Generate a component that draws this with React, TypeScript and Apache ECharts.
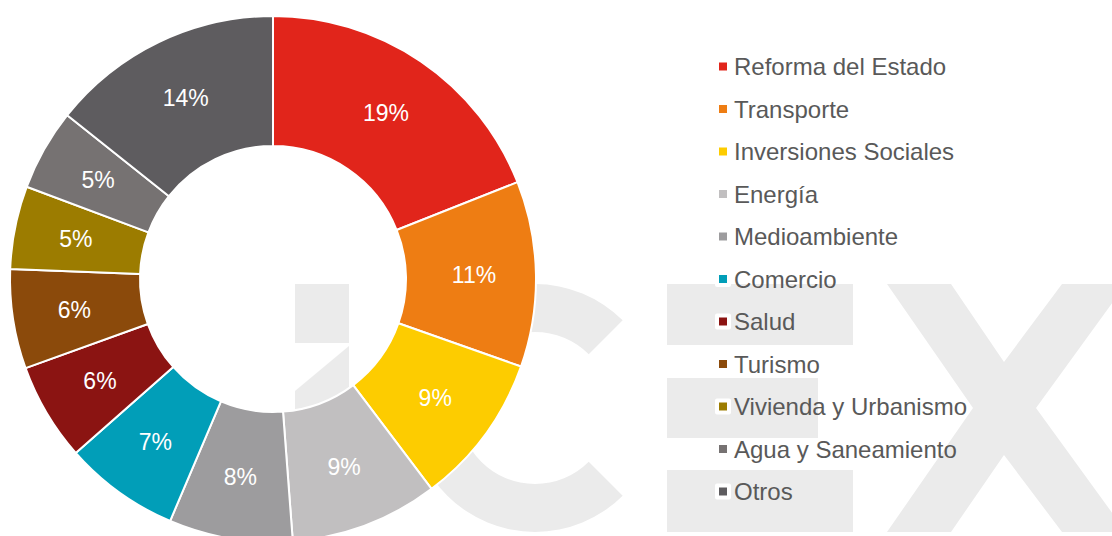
import React, { useEffect, useRef } from "react";
import * as echarts from "echarts";

const categories = [
  "Reforma del Estado",
  "Transporte",
  "Inversiones Sociales",
  "Energía",
  "Medioambiente",
  "Comercio",
  "Salud",
  "Turismo",
  "Vivienda y Urbanismo",
  "Agua y Saneamiento",
  "Otros",
];
const shares = [19.0, 11.4, 9.3, 9.1, 7.6, 7.1, 6.0, 6.1, 5.1, 5.0, 14.3];
const colors = [
  "#e1251b",
  "#ee7d13",
  "#fdcc00",
  "#c1bfc0",
  "#9d9c9e",
  "#019eb8",
  "#8b1412",
  "#8b4a0b",
  "#9c7c00",
  "#767272",
  "#5e5c5f",
];

const WM = "#ebebeb";

export default function App() {
  const ref = useRef<HTMLDivElement>(null);
  useEffect(() => {
    if (!ref.current) return;
    const chart = echarts.init(ref.current, undefined, { renderer: "svg" });
    const font = "'Liberation Sans', Arial, sans-serif";
    chart.setOption({
      animation: false,
      backgroundColor: "#ffffff",
      graphic: [
        { type: "rect", z: 0, shape: { x: 295, y: 284, width: 54, height: 59 }, style: { fill: WM } },
        {
          type: "polygon",
          z: 0,
          shape: { points: [[349, 346], [349, 532], [295, 532], [295, 391]] },
          style: { fill: WM },
        },
        {
          type: "sector",
          z: 0,
          shape: { cx: 535, cy: 408, r: 124, r0: 76, startAngle: Math.PI / 4, endAngle: (Math.PI * 7) / 4, clockwise: true },
          style: { fill: WM },
        },
        { type: "rect", z: 0, shape: { x: 667, y: 284, width: 186, height: 61 }, style: { fill: WM } },
        { type: "rect", z: 0, shape: { x: 667, y: 378, width: 151, height: 60 }, style: { fill: WM } },
        { type: "rect", z: 0, shape: { x: 667, y: 470, width: 186, height: 62 }, style: { fill: WM } },
        {
          type: "polygon",
          z: 0,
          shape: {
            points: [
              [887, 284], [951, 284], [1004, 362], [1062, 284], [1126, 284], [1036, 408],
              [1126, 532], [1062, 532], [1004, 455], [951, 532], [887, 532], [973, 408],
            ],
          },
          style: { fill: WM },
        },
      ],
      legend: {
        orient: "vertical",
        left: 710,
        top: 49.5,
        icon: "rect",
        itemWidth: 12,
        itemHeight: 12,
        itemGap: 18.5,
        selectedMode: false,
        itemStyle: { borderColor: "#ffffff", borderWidth: 4 },
        textStyle: { color: "#595959", fontSize: 24, fontFamily: font, lineHeight: 24 },
        data: categories,
      },
      series: [
        {
          type: "pie",
          center: [273, 279],
          radius: [133, 263],
          startAngle: 90,
          clockwise: true,
          avoidLabelOverlap: false,
          itemStyle: { borderColor: "#ffffff", borderWidth: 2 },
          label: {
            show: true,
            position: "inside",
            color: "#ffffff",
            fontSize: 23,
            fontFamily: font,
            formatter: (p: any) => Math.round(p.value) + "%",
          },
          labelLine: { show: false },
          emphasis: { disabled: true },
          data: categories.map((name, i) => ({
            name,
            value: shares[i],
            itemStyle: { color: colors[i] },
          })),
        },
      ],
    });
    return () => chart.dispose();
  }, []);
  return (
    <div
      ref={ref}
      style={{ position: "absolute", left: 0, top: 0, width: 1112, height: 536 }}
    />
  );
}
